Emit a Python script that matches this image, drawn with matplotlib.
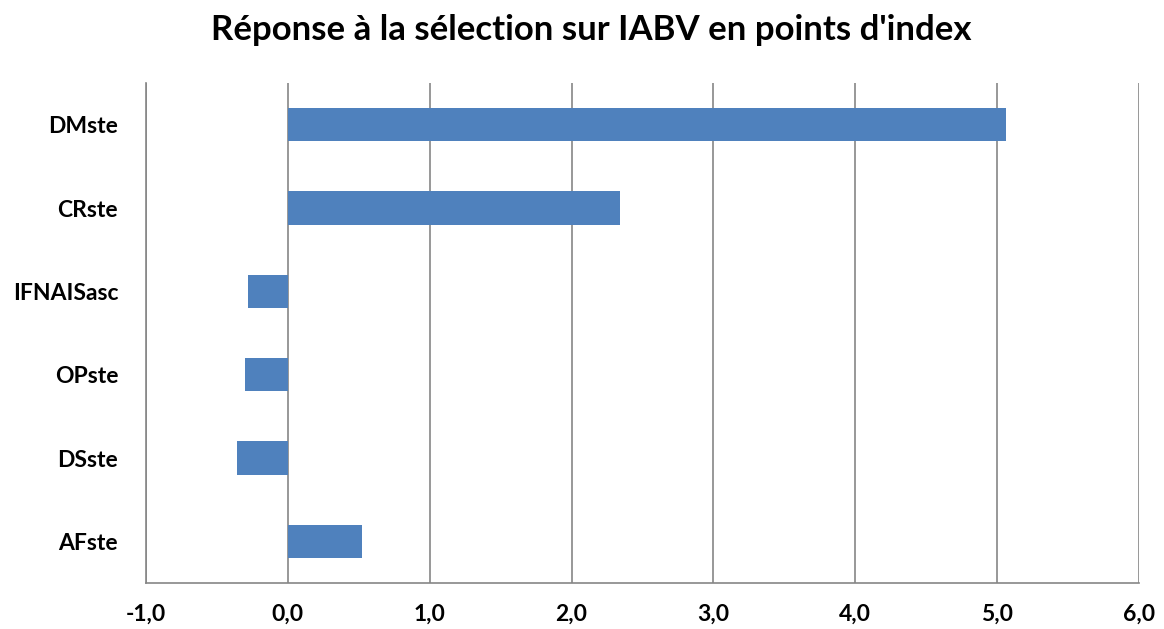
import matplotlib.pyplot as plt
from matplotlib.ticker import FuncFormatter

# data (top to bottom as in the chart)
categories = ['DMste', 'CRste', 'IFNAISasc', 'OPste', 'DSste', 'AFste']
values = [5.06, 2.34, -0.28, -0.30, -0.36, 0.52]
x_ticks = [-1, 0, 1, 2, 3, 4, 5, 6]

bar_color = '#4F81BD'
grid_color = '#868686'

plt.rcParams['font.family'] = ['Lato', 'DejaVu Sans']

fig = plt.figure(figsize=(11.64, 6.29), dpi=100)
ax = fig.add_axes([0.1254, 0.0731, 0.8531, 0.7949])

ypos = list(range(len(categories)))[::-1]
ax.barh(ypos, values, height=0.4, color=bar_color, zorder=3)

ax.set_xlim(-1, 6)
ax.set_ylim(-0.5, len(categories) - 0.5)
ax.set_xticks(x_ticks)
ax.xaxis.set_major_formatter(FuncFormatter(lambda v, p: f'{v:.1f}'.replace('.', ',')))
ax.set_yticks(ypos)
ax.set_yticklabels(categories)

ax.grid(True, axis='x', color=grid_color, linewidth=1.2, zorder=0)
ax.tick_params(length=0, labelsize=16.5)
ax.tick_params(axis='x', pad=15)
ax.tick_params(axis='y', pad=20)
for lab in ax.get_xticklabels() + ax.get_yticklabels():
    lab.set_fontweight('bold')

for s in ['top', 'right']:
    ax.spines[s].set_visible(False)
for s in ['left', 'bottom']:
    ax.spines[s].set_color(grid_color)
    ax.spines[s].set_linewidth(1.2)

fig.text(0.508, 0.952, "Réponse à la sélection sur IABV en points d'index",
         ha='center', va='center', fontsize=25, fontweight='bold')

plt.savefig('out.png', dpi=100, facecolor='white')
